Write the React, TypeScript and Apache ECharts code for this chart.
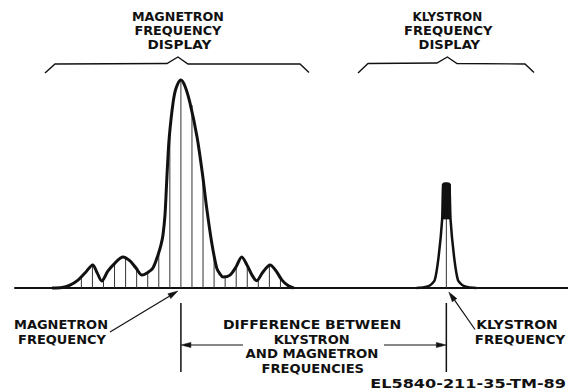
import React, { useEffect, useRef } from "react";
import * as echarts from "echarts";

// Frequency axis in "pip" units, magnetron frequency at 0.
const X_MIN = -15;
const X_MAX = 35;
const MAGNETRON_FREQ = 0;
const KLYSTRON_FREQ = 24;

// Magnetron envelope (frequency offset, relative amplitude)
const magnetronEnvelope: [number, number][] = [
  [-11.65, 0], [-10.75, 0.2], [-10.03, 1.4], [-9.3, 3.8], [-8.67, 7.2], [-7.97, 11.1],
  [-7.58, 7.4], [-7.16, 3.4], [-6.59, 8.2], [-5.96, 12], [-5.24, 14.9], [-4.6, 13],
  [-4.06, 9.6], [-3.52, 6.2], [-3.07, 7.2], [-2.53, 9.6], [-2.07, 15.9], [-1.8, 20.7],
  [-1.62, 25.5], [-1.44, 35], [-1.3, 49.5], [-1.21, 59], [-1.05, 72.6], [-0.71, 89],
  [-0.44, 96], [0, 100], [0.37, 97], [0.82, 89], [1.46, 72.6], [1.97, 54], [2.33, 38.5],
  [2.78, 22], [3.24, 9.6], [3.54, 6.7], [3.81, 5.3], [4.44, 6.2], [4.98, 10.1], [5.5, 14.9],
  [5.98, 11], [6.43, 6.2], [6.85, 3.5], [7.42, 7.7], [8.06, 11.1], [8.6, 8.2], [9.14, 3.8],
  [9.68, 1.2], [10.2, 0],
];

// Spectral pips (vertical lines) under the magnetron envelope
const pipOffsets = [-9, -8, -7, -6, -5, -4, -3, -2, -1, 0, 1, 2, 3, 4, 5, 6, 7, 8, 9];
const pipHeights = [5.4, 11, 4.8, 11.8, 14.5, 9.2, 7.5, 16.5, 75, 100, 88, 53, 16, 6, 10.3, 10.8, 4.6, 10.9, 4.8];

// Klystron peak
const klystronPeak = 50;
const klystronOutline: [number, number][] = [
  [21.3, 0], [22.0, 0.4], [22.5, 1.2], [22.95, 3.8], [23.3, 15], [23.62, 33], [23.72, 49.8],
  [23.85, 50.3], [24.15, 50.3], [24.28, 49.8], [24.38, 33], [24.7, 15], [25.05, 3.8],
  [25.5, 1.2], [26.0, 0.4], [26.7, 0],
];
const klystronFill: [number, number][] = [[KLYSTRON_FREQ, 33], [KLYSTRON_FREQ, 50]];

const magnetronTitle = ["MAGNETRON", "FREQUENCY", "DISPLAY"];
const klystronTitle = ["KLYSTRON", "FREQUENCY", "DISPLAY"];
const magnetronLabel = ["MAGNETRON", "FREQUENCY"];
const klystronLabel = ["KLYSTRON", "FREQUENCY"];
const differenceLabel = ["DIFFERENCE BETWEEN", "KLYSTRON", "AND MAGNETRON", "FREQUENCIES"];
const figureId = "EL5840-211-35-TM-89";

const FONT_FAMILY = '"DejaVu Sans", "Liberation Sans", sans-serif';
const INK = "#111";

export default function App() {
  const ref = useRef<HTMLDivElement>(null);

  useEffect(() => {
    document.body.style.margin = "0";
    if (!ref.current) return;
    const chart = echarts.init(ref.current, undefined, { renderer: "svg" });

    const pipData = pipOffsets.map((u, i) => [u, pipHeights[i]]);
    pipData.push([KLYSTRON_FREQ, klystronPeak]);

    chart.setOption({
      animation: false,
      backgroundColor: "#fff",
      grid: { left: 15, right: 0, top: 80, bottom: 104 },
      xAxis: {
        type: "value",
        min: X_MIN,
        max: X_MAX,
        axisLine: { show: true, onZero: true, lineStyle: { color: INK, width: 2 } },
        axisTick: { show: false },
        axisLabel: { show: false },
        splitLine: { show: false },
      },
      yAxis: {
        type: "value",
        min: 0,
        max: 100,
        show: false,
        splitLine: { show: false },
      },
      series: [
        {
          type: "bar",
          data: pipData,
          barWidth: 1,
          itemStyle: { color: "#333" },
          silent: true,
        },
        {
          type: "line",
          data: magnetronEnvelope,
          smooth: 0.3,
          symbol: "none",
          clip: false,
          lineStyle: { color: INK, width: 3 },
          silent: true,
        },
        {
          type: "line",
          data: klystronOutline,
          smooth: 0.2,
          symbol: "none",
          clip: false,
          lineStyle: { color: INK, width: 2.5 },
          silent: true,
        },
        {
          type: "line",
          data: klystronFill,
          symbol: "none",
          clip: false,
          lineStyle: { color: INK, width: 9, cap: "butt" },
          silent: true,
        },
      ],
    });

    const mPx = chart.convertToPixel({ gridIndex: 0 }, [MAGNETRON_FREQ, 0]) as number[];
    const kPx = chart.convertToPixel({ gridIndex: 0 }, [KLYSTRON_FREQ, 0]) as number[];
    const mx = mPx[0];
    const kx = kPx[0];
    const baseY = mPx[1];

    const ctx = document.createElement("canvas").getContext("2d");
    const fontSize = 11.5;
    const font = `bold ${fontSize}px ${FONT_FAMILY}`;
    const measure = (t: string, f: string) => {
      if (!ctx) return 0;
      ctx.font = f;
      return ctx.measureText(t).width;
    };

    const text = (t: string, x: number, y: number, targetW: number, align = "center", f = font) => {
      const w = measure(t, f);
      const sx = w > 0 ? targetW / w : 1.15;
      return {
        type: "text",
        x,
        y,
        scaleX: sx,
        silent: true,
        style: {
          text: t,
          font: f,
          fill: INK,
          align,
          verticalAlign: "middle",
        },
      };
    };

    const line = (x1: number, y1: number, x2: number, y2: number, w = 1.3) => ({
      type: "line",
      silent: true,
      shape: { x1, y1, x2, y2 },
      style: { stroke: INK, lineWidth: w },
    });

    const arrow = (x1: number, y1: number, x2: number, y2: number, L = 9, hw = 2.6, w = 1.2) => {
      const dx = x2 - x1;
      const dy = y2 - y1;
      const len = Math.hypot(dx, dy) || 1;
      const ux = dx / len;
      const uy = dy / len;
      const bx = x2 - ux * L;
      const by = y2 - uy * L;
      const nx = -uy;
      const ny = ux;
      return [
        line(x1, y1, bx, by, w),
        {
          type: "polygon",
          silent: true,
          shape: { points: [[x2, y2], [bx + nx * hw, by + ny * hw], [bx - nx * hw, by - ny * hw]] },
          style: { fill: INK, stroke: INK, lineWidth: 0.5 },
        },
      ];
    };

    const brace = (pts: number[][]) => ({
      type: "polyline",
      silent: true,
      shape: { points: pts },
      style: { stroke: INK, lineWidth: 1.4, fill: null },
    });

    const mc = mx - 3;
    const kc = kx + 1;
    const graphics: any[] = [
      brace([[45, 73], [55, 64], [167, 63.5], [mc, 57], [188, 64], [300, 64], [309, 72.5]]),
      brace([[358, 73], [368, 63.5], [437, 63], [kc, 57], [457, 63.5], [525, 64], [534, 72.5]]),

      text(magnetronTitle[0], mc, 17.2, 92),
      text(magnetronTitle[1], mc, 31.7, 87),
      text(magnetronTitle[2], mc + 1.5, 45.2, 64),
      text(klystronTitle[0], kc, 17, 70),
      text(klystronTitle[1], kc + 1, 31.5, 88.5),
      text(klystronTitle[2], kc + 2, 45.5, 61.5),

      text(magnetronLabel[0], 61, 325.3, 94),
      text(magnetronLabel[1], 62, 339.8, 88),
      text(differenceLabel[0], 312, 325.3, 178.5),
      text(differenceLabel[1], 311.6, 339.8, 76),
      text(differenceLabel[2], 312, 354.3, 133),
      text(differenceLabel[3], 312.8, 368.8, 102.5),
      text(klystronLabel[0], 517, 325.3, 81.5),
      text(klystronLabel[1], 520, 339.8, 90.5),
      text(figureId, 566, 383.5, 196, "right", `bold 12.5px ${FONT_FAMILY}`),

      line(mx, 303, mx, 372, 1.5),
      line(kx, 303, kx, 372, 1.5),
      ...arrow(243, 345, mx, 345, 10, 2.6),
      ...arrow(384, 345, kx, 345, 10, 2.6),
      ...arrow(110, 332, mx - 3, baseY + 3, 10, 2.8),
      ...arrow(475, 329.5, kx + 2.5, baseY + 4, 10, 2.8),
    ];

    chart.setOption({ graphic: graphics });

    return () => chart.dispose();
  }, []);

  return <div ref={ref} style={{ width: 568, height: 392 }} />;
}
